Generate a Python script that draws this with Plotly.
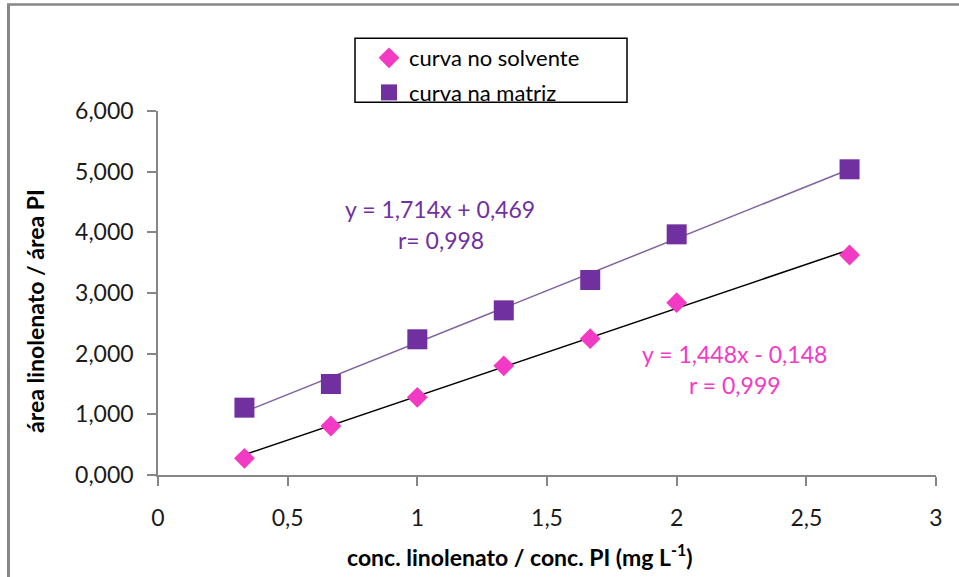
import plotly.graph_objects as go

# ---- data ----
conc = [1/3, 2/3, 1.0, 4/3, 5/3, 2.0, 8/3]
curva_solvente = [0.275, 0.808, 1.280, 1.800, 2.247, 2.840, 3.626]
curva_matriz = [1.110, 1.500, 2.237, 2.714, 3.214, 3.967, 5.039]
slope_solvente, intercept_solvente = 1.448, -0.148
slope_matriz, intercept_matriz = 1.714, 0.469
x_ticks = [0, 0.5, 1, 1.5, 2, 2.5, 3]
y_ticks = [0, 1, 2, 3, 4, 5, 6]
label_solvente = "curva no solvente"
label_matriz = "curva na matriz"
eq_matriz = ["y = 1,714x + 0,469", "r= 0,998"]
eq_solvente = ["y = 1,448x - 0,148", "r = 0,999"]
x_title = "conc. linolenato / conc. PI (mg L<sup>-1</sup>)"
y_title = "área linolenato / área PI"

W, H = 959, 577
L, R, T, B = 158, 936, 111, 475  # plot area in pixels
FONT = "Lato, Carlito, Calibri, sans-serif"
PINK = "#F23AC4"
PURPLE = "#7030A0"


def px(x):
    return (x - L) / (R - L)


def py(y):
    return (B - y) / (B - T)


xline = [min(conc), max(conc)]

fig = go.Figure()
fig.add_trace(go.Scatter(
    x=xline, y=[slope_matriz * v + intercept_matriz for v in xline],
    mode="lines", line=dict(color="#8064A2", width=1.5), showlegend=False,
    hoverinfo="skip"))
fig.add_trace(go.Scatter(
    x=xline, y=[slope_solvente * v + intercept_solvente for v in xline],
    mode="lines", line=dict(color="#000000", width=1.5), showlegend=False,
    hoverinfo="skip"))
fig.add_trace(go.Scatter(
    x=conc, y=curva_solvente, mode="markers", name=label_solvente,
    legendgroup="a",
    marker=dict(symbol="diamond", size=16, color=PINK, line=dict(width=0))))
fig.add_trace(go.Scatter(
    x=conc, y=curva_matriz, mode="markers", name=label_matriz,
    legendgroup="b",
    marker=dict(symbol="square", size=20, color=PURPLE, line=dict(width=0))))

axis_common = dict(
    showgrid=False, zeroline=False, showline=True, linecolor="#868686",
    linewidth=1.5, ticks="outside", ticklen=9, tickwidth=1.5,
    tickcolor="#868686", automargin=False,
    tickfont=dict(family=FONT, size=23, color="#1a1a1a"),
)

fig.update_xaxes(range=[0, 3], tickvals=x_ticks, ticklabelstandoff=13,
                 **axis_common)
fig.update_yaxes(range=[0, 6], tickvals=y_ticks, tickformat=".3f",
                 ticklabelstandoff=9, **axis_common)

annotations = [
    dict(x=px(520), y=py(555), text="<b>" + x_title + "</b>",
         font=dict(family=FONT, size=23, color="#000")),
    dict(x=px(35), y=py(311), text="<b>" + y_title + "</b>", textangle=-90,
         font=dict(family=FONT, size=23, color="#000")),
    dict(x=px(440), y=py(209), text=eq_matriz[0],
         font=dict(family=FONT, size=23, color=PURPLE)),
    dict(x=px(441), y=py(240), text=eq_matriz[1],
         font=dict(family=FONT, size=23, color=PURPLE)),
    dict(x=px(734), y=py(354), text=eq_solvente[0],
         font=dict(family=FONT, size=23, color=PINK)),
    dict(x=px(735), y=py(385), text=eq_solvente[1],
         font=dict(family=FONT, size=23, color=PINK)),
]
for a in annotations:
    a.update(xref="paper", yref="paper", showarrow=False,
             xanchor="center", yanchor="middle")

shapes = [
    # legend box
    dict(type="rect", xref="paper", yref="paper",
         x0=px(355), x1=px(627), y0=py(102.3), y1=py(38.3),
         line=dict(color="#000", width=1.5), fillcolor="rgba(0,0,0,0)"),
    # outer chart border (top and left visible)
    dict(type="line", xref="paper", yref="paper",
         x0=px(7), x1=px(959), y0=py(4.5), y1=py(4.5),
         line=dict(color="#868686", width=2.5)),
    dict(type="line", xref="paper", yref="paper",
         x0=px(8.5), x1=px(8.5), y0=py(4.5), y1=py(577),
         line=dict(color="#868686", width=3)),
]

fig.update_layout(
    width=W, height=H,
    margin=dict(l=L, r=W - R, t=T, b=H - B, pad=0),
    paper_bgcolor="white", plot_bgcolor="white",
    separators=",.",
    font=dict(family=FONT, size=22, color="#000"),
    showlegend=True,
    legend=dict(x=px(369), y=py(37), xanchor="left", yanchor="top",
                bgcolor="rgba(0,0,0,0)", borderwidth=0,
                font=dict(family=FONT, size=22, color="#000"),
                tracegroupgap=3, itemwidth=30),
    annotations=annotations, shapes=shapes,
)

fig.write_html("out.html")
